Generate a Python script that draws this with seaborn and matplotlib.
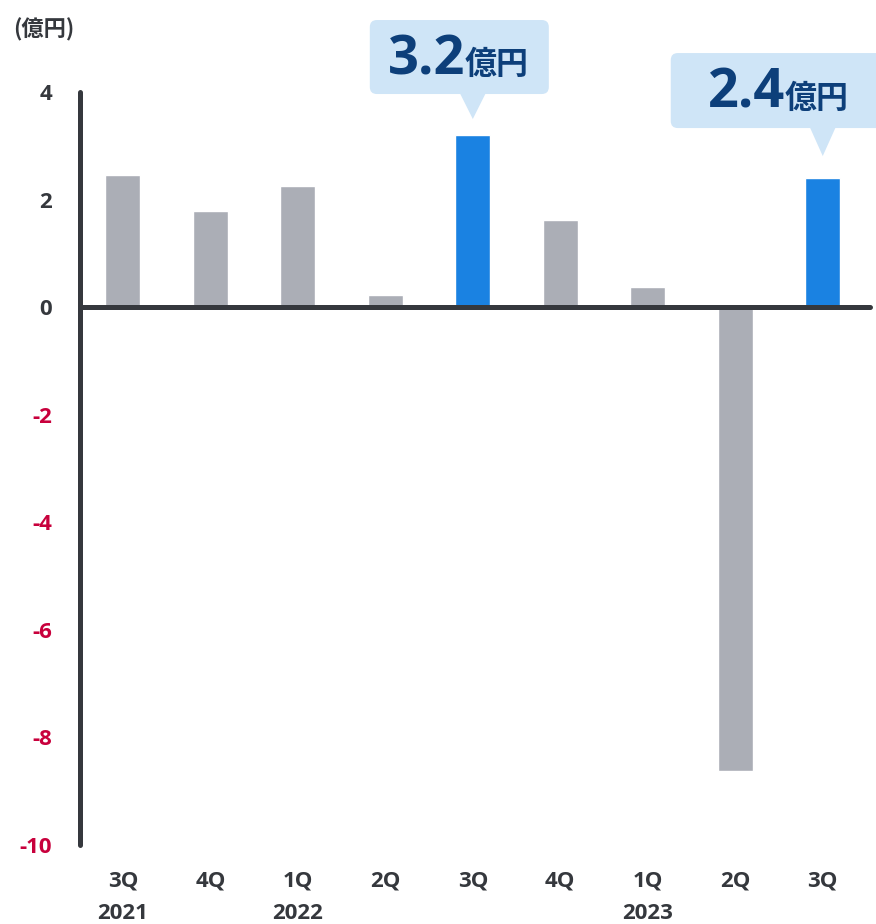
import matplotlib
matplotlib.use("Agg")
import matplotlib.pyplot as plt
import seaborn as sns
import pandas as pd
from matplotlib.patches import FancyBboxPatch, Polygon

quarters = ["3Q", "4Q", "1Q", "2Q", "3Q", "4Q", "1Q", "2Q", "3Q"]
years = ["2021", "", "2022", "", "", "", "2023", "", ""]
values = [2.45, 1.78, 2.25, 0.22, 3.2, 1.62, 0.37, -8.62, 2.4]
highlight = [False, False, False, False, True, False, False, False, True]
callout_texts = [None, None, None, None, "3.2", None, None, None, "2.4"]
unit = "億円"
yticks = [4, 2, 0, -2, -4, -6, -8, -10]

sns.set_theme(style="white")
plt.rcParams["font.family"] = ["Open Sans", "Noto Sans CJK JP", "DejaVu Sans"]

GREY = "#abaeb6"
BLUE = "#1a82e2"
AXC = "#35383d"
RED = "#c8003c"
BOXC = "#cfe5f7"
NAVY = "#0d3f7a"

W, H = 876, 924
fig = plt.figure(figsize=(W / 100, H / 100), dpi=100)
ax = fig.add_axes([80 / W, 1 - 845 / H, (870 - 80) / W, (845 - 92) / H])

labels = [f"{q}\n{y}" if y else q for q, y in zip(quarters, years)]
df = pd.DataFrame({"label": [f"{i}" for i in range(len(values))], "value": values,
                   "hl": ["b" if h else "g" for h in highlight]})
sns.barplot(data=df, x="label", y="value", hue="hl", palette={"g": GREY, "b": BLUE},
            width=0.4, dodge=False, legend=False, ax=ax, saturation=1)

ax.set_xlim(-0.49, len(values) - 1 + 0.54)
ax.set_ylim(-10, 4)
ax.set_xlabel("")
ax.set_ylabel("")
for s in ["top", "right", "bottom"]:
    ax.spines[s].set_visible(False)
ax.spines["left"].set_color(AXC)
ax.spines["left"].set_linewidth(3.6)
ax.spines["left"].set_capstyle("round")
ax.axhline(0, color=AXC, lw=3.6, solid_capstyle="round", zorder=5, clip_on=False)

ax.set_yticks(yticks)
ax.set_yticklabels([str(t) for t in yticks], fontsize=16, fontweight="bold")
for t, v in zip(ax.get_yticklabels(), yticks):
    t.set_color(RED if v < 0 else AXC)
ax.set_xticks(range(len(values)))
ax.set_xticklabels(labels, fontsize=16, fontweight="bold", color=AXC, linespacing=1.75,
                   va="top")
ax.tick_params(axis="y", length=0, pad=20)
ax.tick_params(axis="x", length=0, pad=18)

fig.text(13 / W, 1 - 30 / H, "(億円)", fontsize=16, fontweight="bold", color=AXC,
         ha="left", va="center", family=["Noto Sans CJK JP", "DejaVu Sans"])

# callouts
fig.canvas.draw()
inv = fig.transFigure.inverted()
def px(x, y):
    return inv.transform((x, y))

offsets = {4: dict(gap=16, left=-103, right=76, h=74, pw=13, ph=25, split=-8),
           8: dict(gap=22, left=-152, right=62, h=75, pw=13, ph=28, split=-38)}
for i, txt in enumerate(callout_texts):
    if txt is None:
        continue
    o = offsets[i]
    tx, ty = ax.transData.transform((i, values[i]))
    tip_y = ty + o["gap"]
    bot = tip_y + o["ph"]
    x0, y0 = px(tx + o["left"], bot)
    x1, y1 = px(tx + o["right"], bot + o["h"])
    box = FancyBboxPatch((x0, y0), x1 - x0, y1 - y0,
                         boxstyle="round,pad=0,rounding_size=0.008",
                         transform=fig.transFigure, facecolor=BOXC, edgecolor="none",
                         mutation_aspect=W / H)
    fig.add_artist(box)
    tri = Polygon([px(tx - o["pw"], bot + 1), px(tx + o["pw"], bot + 1), px(tx, tip_y)],
                  closed=True, transform=fig.transFigure, facecolor=BOXC, edgecolor="none")
    fig.add_artist(tri)
    sx, sy = px(tx + o["split"], bot + o["h"] / 2 - 17)
    fig.text(sx, sy, txt, fontsize=39, fontweight="bold", color=NAVY, ha="right",
             va="baseline", family=["Open Sans", "DejaVu Sans"])
    fig.text(sx, sy, unit, fontsize=23, fontweight="bold", color=NAVY, ha="left",
             va="baseline", family=["Noto Sans CJK JP", "DejaVu Sans"])

fig.savefig("out.png", dpi=100, facecolor="white")
